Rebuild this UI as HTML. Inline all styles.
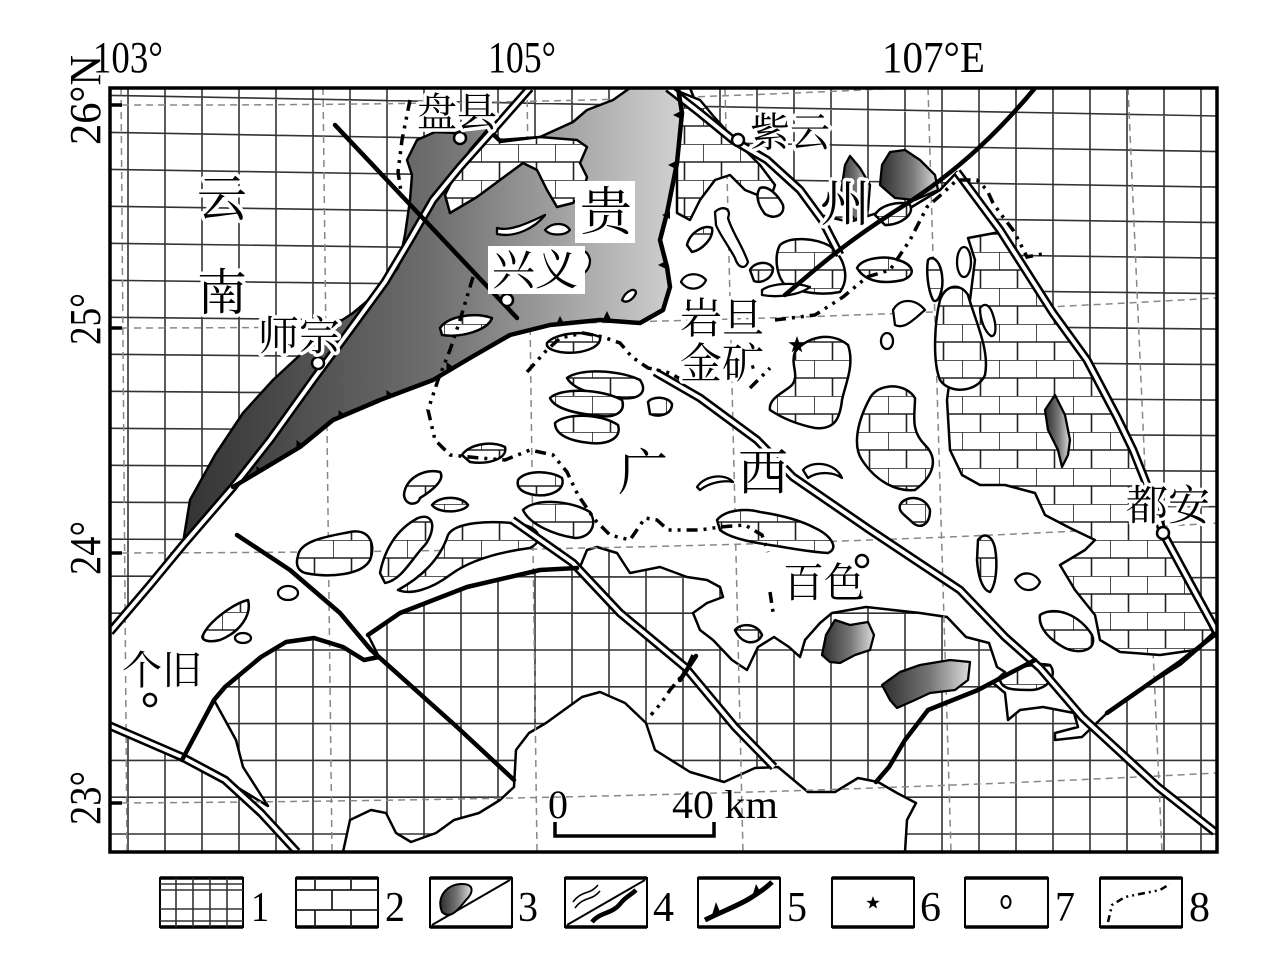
<!DOCTYPE html>
<html><head><meta charset="utf-8">
<style>
html,body{margin:0;padding:0;background:#fff;}
body{width:1280px;height:969px;overflow:hidden;}
svg{display:block;}
.cjk{font-family:"Liberation Serif","Noto Serif CJK SC","Noto Sans CJK SC",serif;fill:#000;stroke:#fff;stroke-width:7px;paint-order:stroke;stroke-linejoin:round;}
.lat{font-family:"Liberation Serif",serif;fill:#000;}
</style></head>
<body>
<svg width="1280" height="969" viewBox="0 0 1280 969" xmlns="http://www.w3.org/2000/svg">
<defs>
<clipPath id="frame"><rect x="110" y="88" width="1107" height="764"/></clipPath>
<pattern id="brick" patternUnits="userSpaceOnUse" x="0" y="0" width="37" height="36">
<rect width="37" height="36" fill="#fff"/>
<path d="M0 0H37M0 18H37M0 0V18M18.5 18V36" stroke="#222" stroke-width="1.6" fill="none"/>
</pattern>
<linearGradient id="gr" gradientUnits="userSpaceOnUse" x1="183" y1="0" x2="682" y2="0">
<stop offset="0" stop-color="#333"/><stop offset="0.5" stop-color="#6e6e6e"/><stop offset="1" stop-color="#d2d2d2"/>
</linearGradient>
<linearGradient id="blob" x1="0" y1="0" x2="1" y2="0">
<stop offset="0" stop-color="#2e2e2e"/><stop offset="0.55" stop-color="#777"/><stop offset="1" stop-color="#ddd"/>
</linearGradient>
</defs>

<g clip-path="url(#frame)">
<rect x="110" y="88" width="1107" height="764" fill="#fff"/>
<!-- fine grid -->
<path fill="none" stroke="#333" stroke-width="1.6" d="M128 88V852M165 88V852M202 88V852M239 88V852M276 88V852M313 88V852M350 88V852M387 88V852M424 88V852M461 88V852M498 88V852M535 88V852M572 88V852M609 88V852M646 88V852M683 88V852M720 88V852M757 88V852M794 88V852M831 88V852M868 88V852M905 88V852M942 88V852M979 88V852M1016 88V852M1053 88V852M1090 88V852M1127 88V852M1164 88V852M1201 88V852
M110 95.4L1217 116M110 132.4L1217 151.6M110 169.4L1217 187.1M110 206.3L1217 222.6M110 243.3L1217 258.1M110 280.3L1217 293.6M110 317.3L1217 329.1M110 354.3L1217 364.6M110 391.3L1217 400.1M110 428.3L1217 435.6M110 465.3L1217 471.2M110 502.2L1217 506.7M110 539.2L1217 542.2M110 576.2L1217 577.7M110 613.2H1217M110 650H1217M110 686.8H1217M110 723.6H1217M110 760.4H1217M110 797.2H1217M110 834H1217"/>

<!-- white basin -->
<path fill="#fff" stroke="#000" stroke-width="2.5" stroke-linejoin="round" d="M110,632 L150,585 L183,543 L233,487 L300,447 L333,420 L380,400 L433,380 L470,358 L510,335 L550,325 L600,320 L640,323 L663,310 L670,287 L667,267 L660,240 L667,213 L677,163 L682,113 L678,88 L690,88 L700,113 L733,140 L767,160 L800,190 L820,215 L850,222 L880,212 L910,208 L940,190 L957,172 L1000,230 L1053,313 L1087,360 L1117,417 L1133,450 L1145,480 L1163,533 L1190,583 L1217,633 L1180,665 L1140,690 L1107,713 L1082,737 L1055,740 L1055,733 L1078,727 L1074,713 L1043,707 L1020,710 L1008,720 L1005,693 L993,683 L1005,672 L997,667 L989,643 L966,637 L947,617 L920,613 L866,607 L832,613 L820,623 L805,640 L800,657 L789,647 L774,637 L758,647 L747,670 L732,660 L713,640 L700,630 L693,613 L707,603 L723,597 L720,587 L707,580 L687,577 L660,567 L630,573 L617,553 L597,547 L587,550 L580,567 L540,570 L467,587 L400,613 L368,635 L379,657 L364,660 L343,647 L314,638 L286,642 L261,657 L225,687 L214,700 L236,740 L243,767 L268,806 L225,780 L182,757 L110,725 Z"/>

<!-- bottom white region -->
<path fill="#fff" stroke="#000" stroke-width="2.5" stroke-linejoin="round" d="M343,852 L350,820 L371,810 L386,813 L396,833 L411,842 L436,833 L454,820 L479,813 L500,800 L514,787 L516,750 L529,733 L546,723 L582,697 L600,692 L625,703 L646,723 L655,750 L690,772 L724,782 L755,768 L778,767 L808,792 L835,792 L858,778 L878,782 L897,793 L916,803 L907,820 L905,852 Z"/>

<!-- dashed lat/long lines -->
<g fill="none" stroke="#888" stroke-width="1.5" stroke-dasharray="7 5">
<path d="M121,88 L127,852"/><path d="M323,88 L332,852"/><path d="M527,88 L537,852"/><path d="M725,88 L743,852"/><path d="M928,88 L951,852"/><path d="M1128,88 L1162,852"/>
<path d="M110,105 Q560,106 900,88"/>
<path d="M110,328 Q700,328 1217,298"/>
<path d="M110,553 Q760,552 1217,523"/>
<path d="M110,803 Q700,800 1217,773"/>
</g>

<!-- gradient region (Guizhou platform) -->
<path fill="url(#gr)" stroke="#000" stroke-width="2.5" stroke-linejoin="round" d="M183,543 L190,500 L215,455 L243,413 L273,380 L300,355 L330,328 L353,313 L378,292 L398,268 L405,235 L410,200 L412,175 L407,160 L417,140 L435,132 L455,133 L470,128 L487,125 L500,140 L540,137 L573,122 L587,110 L613,100 L630,88 L678,88 L682,113 L677,163 L667,213 L660,240 L667,267 L670,287 L663,310 L640,323 L600,320 L550,325 L510,335 L470,358 L433,380 L380,400 L333,420 L300,447 L233,487 Z"/>

<!-- brick areas -->
<g fill="url(#brick)" stroke="#000" stroke-width="2.5" stroke-linejoin="round">
<path d="M450,213 L477,197 L500,180 L523,163 L537,170 L547,190 L557,207 L573,203 L583,193 L587,177 L580,163 L587,147 L577,140 L540,137 L500,142 L487,130 L470,150 L455,175 L445,195 Z"/>
<path d="M680,92 L700,100 L715,118 L735,140 L760,165 L775,185 L770,200 L745,190 L730,175 L715,180 L700,200 L690,220 L677,213 L677,163 L682,113 Z"/>
<path d="M760,188 C768,185 778,195 783,205 C785,215 775,220 765,214 C758,205 755,195 760,188 Z"/>
<path d="M780,245 C790,236 815,238 830,246 C845,258 850,278 840,292 C820,296 800,292 786,286 C776,276 774,256 780,245 Z"/>
<path d="M875,215 C880,205 900,200 910,205 C915,215 900,225 885,225 Z"/>
<path d="M947,400 L955,340 L970,300 L975,260 L968,238 L1000,232 L1053,313 L1087,360 L1117,417 L1133,450 L1145,480 L1163,533 L1190,583 L1213,633 L1195,650 L1160,655 L1120,652 L1100,640 L1095,615 L1075,590 L1060,565 L1085,550 L1095,540 L1070,528 L1045,515 L1035,493 L1005,485 L980,485 L962,475 L950,450 Z"/>
<path d="M1040,615 C1055,605 1080,615 1092,635 C1098,650 1080,655 1065,648 C1050,640 1038,628 1040,615 Z"/>
<path d="M1000,680 C1010,668 1035,662 1050,665 C1058,675 1048,690 1030,690 C1015,690 1002,690 1000,680 Z"/>
<path d="M978,540 C984,532 992,535 995,548 C998,565 996,585 990,592 C982,590 978,575 977,560 Z"/>
<path d="M298,556 C300,540 330,536 350,532 C370,528 376,545 370,560 C362,575 330,578 305,573 C296,570 296,562 298,556 Z"/>
<path d="M380,573 C384,552 395,530 418,518 C435,512 436,530 425,545 C412,558 402,580 385,583 Z"/>
<path d="M398,590 C420,578 440,560 448,535 C455,522 490,520 520,524 C540,528 545,540 530,548 C500,552 470,560 450,575 C430,590 410,595 398,590 Z"/>
<path d="M404,495 C405,478 425,468 440,472 C446,480 430,492 420,498 C418,506 405,506 404,495 Z"/>
<path d="M432,505 C440,495 462,496 468,505 C465,512 440,515 432,505 Z"/>
<path d="M203,635 C210,620 235,603 248,600 C252,615 240,632 220,640 C208,643 200,640 203,635 Z"/>
<path d="M462,455 C468,445 490,440 505,447 C508,458 490,465 470,462 Z"/>
<path d="M547,343 C555,333 585,330 600,337 C602,348 580,355 560,352 C550,350 546,347 547,343 Z"/>
<path d="M567,378 C580,368 620,370 640,380 C648,392 640,400 620,398 C600,395 575,392 567,378 Z"/>
<path d="M550,398 C560,388 600,388 622,400 C626,412 615,418 600,416 C580,414 555,410 550,398 Z"/>
<path d="M555,423 C565,413 600,413 618,425 C622,438 608,445 590,443 C570,441 555,435 555,423 Z"/>
<path d="M648,402 C652,396 668,396 672,404 C672,414 660,418 650,414 Z"/>
<path d="M518,480 C525,470 550,470 562,478 C566,490 550,497 535,495 C522,493 516,488 518,480 Z"/>
<path d="M523,510 C535,498 570,500 590,512 C598,525 590,538 575,538 C555,535 530,525 523,510 Z"/>
<path d="M717,520 C725,510 745,508 760,512 C780,515 800,520 815,528 C830,535 840,548 828,553 C810,552 790,548 770,545 C750,542 730,538 720,530 Z"/>
<path d="M795,352 C805,338 830,330 848,345 C855,365 845,385 842,400 C840,418 835,430 815,428 C800,425 785,420 770,410 C768,398 785,392 792,385 C800,375 790,365 795,352 Z"/>
<path d="M870,398 C878,383 905,382 915,398 C915,415 910,430 925,445 C938,458 935,475 915,490 C895,492 875,480 862,460 C852,445 858,420 870,398 Z"/>
<path d="M900,505 C905,495 925,495 930,510 C930,525 920,530 912,522 C905,515 898,512 900,505 Z"/>
<path d="M687,245 C690,232 705,224 712,228 C714,238 702,250 692,252 Z"/>
<path d="M750,270 C754,262 768,260 773,268 C773,278 762,284 754,281 Z"/>
<path d="M857,268 C862,258 885,255 898,260 C912,264 918,274 903,280 C885,284 866,283 857,268 Z"/>
<path d="M928,260 C932,255 940,260 942,275 C944,290 938,305 933,300 C928,290 926,272 928,260 Z"/>
<path d="M940,300 C945,285 960,282 968,295 C975,320 990,350 985,375 C978,392 950,395 940,380 C932,360 935,320 940,300 Z"/>
<path d="M440,328 C448,316 475,312 492,318 C488,330 462,338 442,335 Z"/>
<path d="M735,630 C742,622 758,624 762,635 C758,645 742,646 735,630 Z"/>
</g>

<!-- white small shapes -->
<g fill="#fff" stroke="#000" stroke-width="2.3" stroke-linejoin="round">
<path d="M697,487 C705,475 725,473 733,482 C725,480 710,482 700,490 Z"/>
<path d="M803,470 C812,460 835,462 842,478 C835,473 820,470 808,478 Z"/>
<path d="M497,228 C510,232 530,222 545,215 C535,228 515,238 497,234 Z"/>
<path d="M545,230 C552,222 565,222 570,230 C565,236 550,236 545,230 Z"/>
<path d="M575,255 C580,248 588,250 590,260 C590,272 580,278 575,270 Z"/>
<path d="M622,300 C626,290 636,287 636,293 C633,300 626,304 622,300 Z"/>
<path d="M681,282 C685,272 700,272 706,280 C702,290 688,292 681,282 Z"/>
<path d="M893,310 C900,298 915,298 925,310 C915,318 905,330 895,325 Z"/>
<ellipse cx="887" cy="341" rx="6" ry="8"/>
<ellipse cx="288" cy="593" rx="10" ry="7"/>
<ellipse cx="243" cy="638" rx="8" ry="5"/>
<ellipse cx="964" cy="262" rx="7" ry="15"/>
<path d="M980,308 C985,302 990,305 993,315 C997,327 996,337 991,336 C985,332 980,320 980,308 Z"/>
<path d="M715,212 C722,205 732,208 728,218 C732,232 742,245 748,262 C745,270 738,268 735,258 C728,245 720,235 716,225 Z"/>
<path d="M762,290 C772,283 795,282 810,287 C800,295 778,298 762,295 Z"/>
<path d="M1015,580 C1022,570 1035,572 1040,582 C1036,592 1022,594 1015,580 Z"/>
</g>

<!-- gray blobs -->
<g fill="url(#blob)" stroke="#000" stroke-width="2.3" stroke-linejoin="round">
<path d="M840,200 L845,165 L850,156 L860,168 L870,185 L868,210 L855,220 Z"/>
<path d="M882,165 L890,152 L905,150 L920,160 L935,175 L938,190 L915,200 L895,198 L880,185 Z"/>
<path d="M822,655 L826,635 L835,620 L850,625 L868,622 L874,635 L870,650 L855,655 L840,663 L830,662 Z"/>
<path d="M882,685 L900,672 L920,665 L950,660 L970,662 L968,680 L955,690 L930,693 L915,700 L897,708 L890,700 Z"/>
<path d="M1055,395 L1065,415 L1070,440 L1068,455 L1062,467 L1058,450 L1048,430 L1045,410 Z"/>
</g>

<!-- double lines -->
<g fill="none" stroke-linejoin="round" stroke-linecap="butt">
<g stroke="#000" stroke-width="9">
<path d="M110,632 L150,585 L183,545 L233,487 L270,440 L313,380 L350,330 L385,282 L410,240 L433,200 L460,167 L493,130 L530,88"/>
<path d="M108,725 L182,757 L225,780 L261,813 L297,852"/>
<path d="M512,520 L573,563 L620,613 L685,667 L735,727 L774,767"/>
<path d="M655,372 L700,398 L757,440 L793,477 L870,530 L960,590 L1005,637 L1040,668 L1082,717 L1158,787 L1215,832"/>
<path d="M668,88 L700,113 L733,140 L767,160 L800,190 L822,220 L840,255"/>
<path d="M957,172 L1000,230 L1053,313 L1087,360 L1117,417 L1133,450 L1145,480 L1163,533 L1190,583 L1219,636"/>
</g>
<g stroke="#fff" stroke-width="3.8">
<path d="M110,632 L150,585 L183,545 L233,487 L270,440 L313,380 L350,330 L385,282 L410,240 L433,200 L460,167 L493,130 L530,88"/>
<path d="M108,725 L182,757 L225,780 L261,813 L297,852"/>
<path d="M512,520 L573,563 L620,613 L685,667 L735,727 L774,767"/>
<path d="M655,372 L700,398 L757,440 L793,477 L870,530 L960,590 L1005,637 L1040,668 L1082,717 L1158,787 L1215,832"/>
<path d="M668,88 L700,113 L733,140 L767,160 L800,190 L822,220 L840,255"/>
<path d="M957,172 L1000,230 L1053,313 L1087,360 L1117,417 L1133,450 L1145,480 L1163,533 L1190,583 L1219,636"/>
</g>
</g>

<!-- thick lines -->
<g fill="none" stroke="#000" stroke-width="4.5" stroke-linejoin="round" stroke-linecap="round">
<path d="M335,125 L517,318"/>
<path d="M237,535 L290,570 L340,613 L371,650 L457,727 L514,780"/>
<path d="M233,487 L300,447 L333,420 L380,400 L433,380 L470,358 L510,335 L550,325 L600,320 L640,323 L663,310 L670,287 L667,267 L660,240 L667,213 L677,163 L682,113 L678,88"/>
<path d="M1035,88 C1000,130 960,170 900,208 S815,270 785,295"/>
<path d="M182,760 L214,700 L225,687 L261,657 L286,642 L314,638 L343,647 L364,660 L379,657"/>
<path d="M368,635 L400,613 L467,587 L540,570 L577,568"/>
<path d="M1035,660 L978,690 L928,710 L905,740 L889,767 L876,782"/>
<path d="M1217,633 L1180,662 L1140,690 L1107,713"/>
<path d="M680,680 L696,656"/>
</g>
<!-- teeth -->
<g fill="#000">
<path d="M256.6,475 L263.4,471 L256.4,466 Z"/>
<path d="M296.6,449 L303.4,445 L296.4,440 Z"/>
<path d="M338.6,419 L345.4,415 L338.4,410 Z"/>
<path d="M386.6,399 L393.4,395 L386.4,390 Z"/>
<path d="M446.6,371 L453.4,367 L446.4,362 Z"/>
<path d="M556,324.5 L564,323.5 L560,316 Z"/>
<path d="M603,319.5 L611,319.5 L607,311 Z"/>
<path d="M666,261 L666,269 L658,265 Z"/>
<path d="M670,211 L670,219 L662,215 Z"/>
<path d="M676,161 L676,169 L668,165 Z"/>
<path d="M681,111 L681,119 L673,115 Z"/>
</g>

<!-- dash-dot boundaries -->
<g fill="none" stroke="#000" stroke-width="3.5" stroke-dasharray="11 6 3 6 3 6" stroke-linecap="butt">
<path d="M410,100 L402,140 L398,172 L402,198"/>
<path d="M473,277 L460,320 L450,350 L438,380 L428,410 L435,440 L450,455 L480,458 L505,460 L530,450 L553,455 L567,472 L578,495 L595,520 L610,535 L630,540 L645,518 L657,520 L668,530 L700,530 L720,527 L745,525 L762,535 L768,552"/>
<path d="M527,372 L545,352 L560,338 L583,333 L603,337 L620,343 L632,357 L648,368 L670,373 L685,382"/>
<path d="M735,372 L760,365"/>
<path d="M750,388 L770,368"/>
<path d="M775,320 L815,315 L843,297 L867,277 L890,270 L910,240 L927,207 L943,193 L957,180 L977,180 L987,190 L993,203 L1003,217 L1013,230 L1020,243 L1027,257 L1047,253"/>
<path d="M693,655 L685,672 L670,690 L662,702 L651,715"/>
<path d="M770,592 L773,612"/>
</g>

<!-- towns -->
<g fill="#fff" stroke="#000" stroke-width="2.5">
<circle cx="460" cy="138" r="6"/>
<circle cx="738" cy="140" r="6"/>
<circle cx="507" cy="300" r="6"/>
<circle cx="318" cy="363" r="6"/>
<circle cx="150" cy="700" r="6"/>
<circle cx="862" cy="561" r="6"/>
<circle cx="1163" cy="533" r="6"/>
</g>
<polygon fill="#000" points="797,336 799.12,342.09 805.56,342.22 800.42,346.11 802.29,352.28 797,348.6 791.71,352.28 793.58,346.11 788.44,342.22 794.88,342.09"/>

<!-- label backgrounds -->
<rect x="488" y="246" width="97" height="48" fill="#fff"/>
<rect x="575" y="181" width="60" height="62" fill="#fff"/>

<!-- labels -->
<text class="cjk" x="197" y="216" font-size="50">云</text>
<text class="cjk" x="197" y="310" font-size="50">南</text>
<text class="cjk" x="417" y="126" font-size="40">盘县</text>
<text class="cjk" x="750" y="146" font-size="40">紫云</text>
<text class="cjk" x="492" y="285" font-size="43">兴义</text>
<text class="cjk" x="580" y="230" font-size="52">贵</text>
<text class="cjk" x="820" y="221" font-size="50">州</text>
<text class="cjk" x="258" y="350" font-size="41">师宗</text>
<text class="cjk" x="680" y="333" font-size="42">岩旦</text>
<text class="cjk" x="680" y="378" font-size="42">金矿</text>
<text class="cjk" x="618" y="490" font-size="50">广</text>
<text class="cjk" x="738" y="490" font-size="50">西</text>
<text class="cjk" x="783" y="597" font-size="41">百色</text>
<text class="cjk" x="1126" y="520" font-size="42">都安</text>
<text class="cjk" x="122" y="684" font-size="40">个旧</text>

<!-- scale bar -->
<text class="lat" x="548" y="818" font-size="40" textLength="20" lengthAdjust="spacingAndGlyphs">0</text>
<text class="lat" x="672" y="818" font-size="40" textLength="106" lengthAdjust="spacingAndGlyphs">40 km</text>
<path d="M555,822 V836 H714 V822" fill="none" stroke="#000" stroke-width="3.5"/>
</g>

<!-- frame -->
<rect x="110" y="88" width="1107" height="764" fill="none" stroke="#000" stroke-width="3.5"/>
<path d="M110,105 H122 M110,328 H122 M110,553 H122 M110,803 H122" stroke="#000" stroke-width="3.5"/>

<!-- coordinate labels -->
<text class="lat" x="93" y="72" font-size="44" textLength="70" lengthAdjust="spacingAndGlyphs">103°</text>
<text class="lat" x="488" y="72" font-size="44" textLength="68" lengthAdjust="spacingAndGlyphs">105°</text>
<text class="lat" x="882" y="72" font-size="44" textLength="103" lengthAdjust="spacingAndGlyphs">107°E</text>
<text class="lat" transform="translate(100,145) rotate(-90)" font-size="44" textLength="90" lengthAdjust="spacingAndGlyphs">26°N</text>
<text class="lat" transform="translate(100,345) rotate(-90)" font-size="44" textLength="52" lengthAdjust="spacingAndGlyphs">25°</text>
<text class="lat" transform="translate(100,575) rotate(-90)" font-size="44" textLength="54" lengthAdjust="spacingAndGlyphs">24°</text>
<text class="lat" transform="translate(100,825) rotate(-90)" font-size="44" textLength="54" lengthAdjust="spacingAndGlyphs">23°</text>

<!-- legend -->
<g>
<g fill="#fff" stroke="#000" stroke-width="2">
<rect x="160" y="878" width="83" height="49"/>
<rect x="296" y="878" width="82" height="49"/>
<rect x="430" y="878" width="82" height="49"/>
<rect x="565" y="878" width="82" height="49"/>
<rect x="698" y="878" width="82" height="49"/>
<rect x="832" y="878" width="82" height="49"/>
<rect x="965" y="878" width="83" height="49"/>
<rect x="1100" y="878" width="82" height="49"/>
</g>
<g stroke="#000" stroke-width="3.5">
<path d="M160,878H243M160,927H243M296,878H378M296,927H378M430,878H512M430,927H512M565,878H647M565,927H647M698,878H780M698,927H780M832,878H914M832,927H914M965,878H1048M965,927H1048M1100,878H1182M1100,927H1182"/>
</g>
<path fill="none" stroke="#333" stroke-width="1.6" d="M176,878V927M193,878V927M210,878V927M227,878V927M160,884H243M160,890H243M160,909H243M160,921H243"/>
<path fill="none" stroke="#222" stroke-width="1.8" d="M296,890H378M296,910H378M315,878V890M351,878V890M332,890V910M315,910V927M351,910V927"/>
<path fill="none" stroke="#000" stroke-width="2" d="M432,925 L510,880"/>
<path fill="url(#blob)" stroke="#000" stroke-width="2" d="M442,912 C436,898 446,884 462,884 C474,884 474,892 466,900 C458,910 450,920 442,912 Z"/>
<path fill="none" stroke="#000" stroke-width="2" d="M567,925 L645,880"/>
<path fill="none" stroke="#000" stroke-width="1.6" d="M573,902 C582,890 590,895 598,885 M575,908 C584,896 592,901 600,891"/>
<path fill="none" stroke="#000" stroke-width="4.5" d="M592,922 C600,912 612,914 620,904 C626,896 630,896 636,890"/>
<path fill="none" stroke="#000" stroke-width="5" d="M705,920 C725,910 740,905 752,897 C760,892 766,888 772,882"/>
<path fill="#000" d="M712,915 L716,902 L720,912 Z M752,897 L756,884 L761,893 Z"/>
<polygon fill="#000" transform="translate(873,903) scale(0.78) translate(-797,-345)" points="797,336 799.12,342.09 805.56,342.22 800.42,346.11 802.29,352.28 797,348.6 791.71,352.28 793.58,346.11 788.44,342.22 794.88,342.09"/>
<ellipse cx="1006" cy="902" rx="4.5" ry="6" fill="#fff" stroke="#000" stroke-width="2"/>
<path fill="none" stroke="#000" stroke-width="2.5" stroke-dasharray="7 4 2 4 2 4" d="M1108,922 L1112,905 L1125,897 L1145,893 L1160,890 L1170,884"/>
<g class="lat" font-size="42">
<text x="251" y="921" textLength="18" lengthAdjust="spacingAndGlyphs">1</text>
<text x="385" y="921" textLength="20" lengthAdjust="spacingAndGlyphs">2</text>
<text x="518" y="921" textLength="20" lengthAdjust="spacingAndGlyphs">3</text>
<text x="653" y="921" textLength="21" lengthAdjust="spacingAndGlyphs">4</text>
<text x="787" y="921" textLength="20" lengthAdjust="spacingAndGlyphs">5</text>
<text x="920" y="921" textLength="21" lengthAdjust="spacingAndGlyphs">6</text>
<text x="1055" y="921" textLength="20" lengthAdjust="spacingAndGlyphs">7</text>
<text x="1189" y="921" textLength="21" lengthAdjust="spacingAndGlyphs">8</text>
</g>
</g>
</svg>
</body></html>
